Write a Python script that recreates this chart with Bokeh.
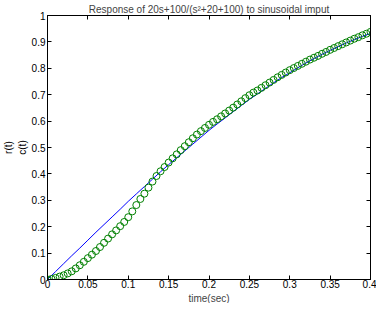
from bokeh.plotting import figure
from bokeh.models import LinearAxis, Range1d, FixedTicker, Title
from bokeh.embed import file_html
from bokeh.resources import INLINE

# time samples for the input (blue line) and output (green circles)
t_line = [0.00, 0.01, 0.02, 0.03, 0.04, 0.05, 0.06, 0.07, 0.08, 0.09,
          0.10, 0.11, 0.12, 0.13, 0.14, 0.15, 0.16, 0.17, 0.18, 0.19,
          0.20, 0.21, 0.22, 0.23, 0.24, 0.25, 0.26, 0.27, 0.28, 0.29,
          0.30, 0.31, 0.32, 0.33, 0.34, 0.35, 0.36, 0.37, 0.38, 0.39, 0.40]
r_vals = [0.000, 0.030, 0.060, 0.090, 0.119, 0.149, 0.179, 0.208, 0.237, 0.266,
          0.296, 0.324, 0.352, 0.380, 0.408, 0.435, 0.461, 0.487, 0.513, 0.539,
          0.565, 0.589, 0.612, 0.636, 0.659, 0.682, 0.703, 0.724, 0.745, 0.765,
          0.783, 0.802, 0.820, 0.837, 0.853, 0.868, 0.882, 0.896, 0.909, 0.921, 0.932]

t_pts = [0.000, 0.005, 0.010, 0.015, 0.020, 0.025, 0.030, 0.035, 0.040, 0.045,
         0.050, 0.055, 0.060, 0.065, 0.070, 0.075, 0.080, 0.085, 0.090, 0.095,
         0.100, 0.105, 0.110, 0.115, 0.120, 0.125, 0.130, 0.135, 0.140, 0.145,
         0.150, 0.155, 0.160, 0.165, 0.170, 0.175, 0.180, 0.185, 0.190, 0.195,
         0.200, 0.205, 0.210, 0.215, 0.220, 0.225, 0.230, 0.235, 0.240, 0.245,
         0.250, 0.255, 0.260, 0.265, 0.270, 0.275, 0.280, 0.285, 0.290, 0.295,
         0.300, 0.305, 0.310, 0.315, 0.320, 0.325, 0.330, 0.335, 0.340, 0.345,
         0.350, 0.355, 0.360, 0.365, 0.370, 0.375, 0.380, 0.385, 0.390, 0.395, 0.400]
c_vals = [0.000, 0.002, 0.006, 0.011, 0.016, 0.023, 0.031, 0.042, 0.054, 0.067,
          0.081, 0.094, 0.108, 0.123, 0.139, 0.155, 0.171, 0.186, 0.202, 0.218,
          0.236, 0.258, 0.282, 0.305, 0.325, 0.348, 0.371, 0.392, 0.410, 0.426,
          0.443, 0.459, 0.474, 0.490, 0.505, 0.520, 0.535, 0.549, 0.562, 0.574,
          0.586, 0.597, 0.607, 0.618, 0.629, 0.640, 0.651, 0.663, 0.675, 0.687,
          0.698, 0.708, 0.716, 0.726, 0.736, 0.746, 0.756, 0.766, 0.775, 0.784,
          0.793, 0.801, 0.809, 0.817, 0.825, 0.833, 0.840, 0.847, 0.855, 0.862,
          0.870, 0.877, 0.884, 0.891, 0.898, 0.905, 0.912, 0.918, 0.925, 0.931, 0.938]

x_ticks = [0, 0.05, 0.1, 0.15, 0.2, 0.25, 0.3, 0.35, 0.4]
x_labels = ["0", "0.05", "0.1", "0.15", "0.2", "0.25", "0.3", "0.35", "0.4"]
y_ticks = [0, 0.1, 0.2, 0.3, 0.4, 0.5, 0.6, 0.7, 0.8, 0.9, 1.0]
y_labels = ["0", "0.1", "0.2", "0.3", "0.4", "0.5", "0.6", "0.7", "0.8", "0.9", "1"]

title_text = "Response of 20s+100/(s\u00b2+20+100) to sinusoidal imput"
FONT = "Liberation Sans"

p = figure(width=376, height=303, output_backend="svg", toolbar_location=None,
           x_range=Range1d(0, 0.4), y_range=Range1d(0, 1),
           min_border_left=39, min_border_right=6, min_border_top=0,
           min_border_bottom=0, x_axis_location=None, y_axis_location=None)
p.background_fill_color = "white"
p.border_fill_color = "white"
p.grid.visible = False
p.outline_line_color = "black"
p.outline_line_width = 1

def make_axis(ticks, labels, show_labels, standoff=2):
    ax = LinearAxis(ticker=FixedTicker(ticks=ticks))
    ax.major_tick_in = 4
    ax.major_tick_out = 0
    ax.minor_tick_in = 0
    ax.minor_tick_out = 0
    ax.axis_line_color = "black"
    ax.major_tick_line_color = "black"
    ax.major_label_text_font = FONT
    ax.major_label_text_font_size = "10px"
    ax.major_label_text_color = "black"
    ax.major_label_standoff = standoff
    ax.axis_label_text_font = FONT
    ax.axis_label_text_font_size = "10px"
    ax.axis_label_text_font_style = "normal"
    ax.axis_label_text_color = "black"
    ax.axis_label_standoff = 1
    if show_labels:
        ax.major_label_overrides = {tk: lb for tk, lb in zip(ticks, labels)}
    else:
        ax.major_label_overrides = {tk: "" for tk in ticks}
        ax.major_label_standoff = 0
    return ax

p.add_layout(make_axis(x_ticks, x_labels, False), "above")
p.add_layout(make_axis(y_ticks, y_labels, False), "right")

t = Title(text=title_text, align="center", text_font=FONT,
          text_font_size="10px", text_font_style="normal", standoff=2,
          offset=0)
p.add_layout(t, "above")

xb = make_axis(x_ticks, x_labels, True, standoff=0)
p.add_layout(xb, "below")
xt = Title(text="time(sec)", align="center", text_font=FONT,
           text_font_size="10px", text_font_style="normal", standoff=0,
           offset=0)
p.add_layout(xt, "below")
yl = make_axis(y_ticks, y_labels, True)
yl.axis_label = "r(t)\nc(t)"
p.add_layout(yl, "left")

p.line(t_line, r_vals, line_color="#0000ff", line_width=1)
p.scatter(t_pts, c_vals, marker="circle", size=7, fill_color=None,
          line_color="#008000", line_width=1)

open("out.html", "w").write(file_html(p, INLINE))
